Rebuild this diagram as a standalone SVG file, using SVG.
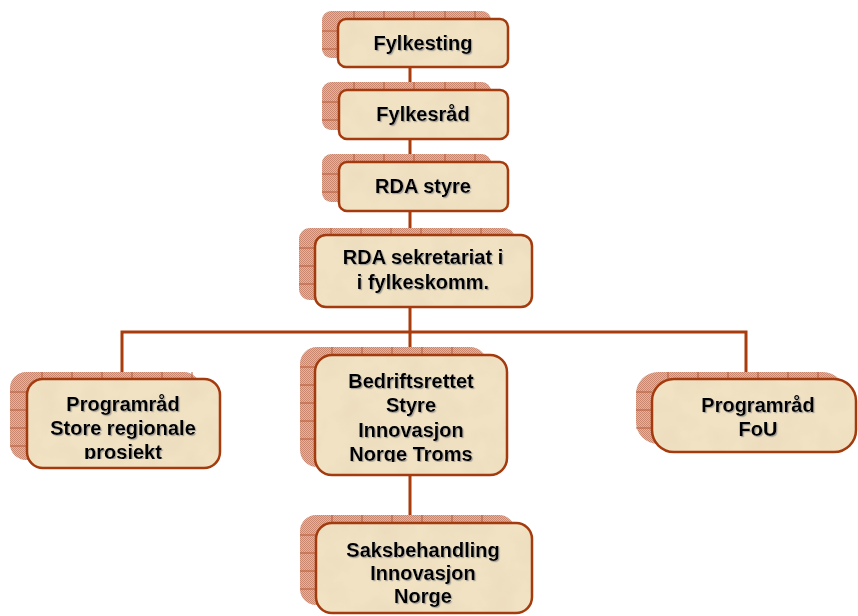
<svg xmlns="http://www.w3.org/2000/svg" width="858" height="616" viewBox="0 0 858 616">
<defs>
  <pattern id="stip" width="2" height="2" patternUnits="userSpaceOnUse">
    <rect width="2" height="2" fill="#e0b4a2"/>
    <rect width="1" height="1" fill="#c98770"/>
    <rect x="1" y="1" width="1" height="1" fill="#c98770"/>
  </pattern>
  <filter id="parch" x="-5%" y="-5%" width="110%" height="110%">
    <feTurbulence type="fractalNoise" baseFrequency="0.035" numOctaves="3" seed="4" result="n"/>
    <feColorMatrix in="n" type="matrix" values="0 0 0 0 0.82  0 0 0 0 0.70  0 0 0 0 0.50  0 0 0 1.2 -0.45" result="c"/>
    <feComposite in="c" in2="SourceGraphic" operator="in" result="m"/>
    <feMerge><feMergeNode in="SourceGraphic"/><feMergeNode in="m"/></feMerge>
    <feComposite in2="SourceGraphic" operator="in"/>
  </filter>
  <filter id="tsh" x="-10%" y="-10%" width="120%" height="130%">
    <feDropShadow dx="1.2" dy="1.2" stdDeviation="0.6" flood-color="#8a8a8a" flood-opacity="0.7"/>
  </filter>
  <clipPath id="c1"><rect x="27" y="379" width="193" height="80"/></clipPath>
  <clipPath id="c2"><rect x="315" y="355" width="192" height="107"/></clipPath>
</defs>
<style>
  .back { fill: url(#stip); }
  .brick { stroke: #b85a34; stroke-width: 1; fill: none; }
  .front { fill: #f1e2c3; stroke: none; filter: url(#parch); }
  .edge { fill: none; stroke: #a33b0e; stroke-width: 2.5; }
  .conn { stroke: #a83c0c; stroke-width: 3; fill: none; }
  text { font-family: "Liberation Sans", Arial, sans-serif; font-weight: bold; font-size: 20px; fill: #000; text-anchor: middle; }
  .t { filter: url(#tsh); }
</style>

<g id="connectors">
  <path class="conn" d="M410 67 V90 M410 139 V162 M410 211 V235 M410 307 V355 M410 475 V523"/>
  <path class="conn" d="M122 379 V332 H746 V379"/>
</g>

<g id="fylkesting">
  <rect class="back" x="322" y="11" width="169" height="47" rx="9"/>
  <path class="brick" d="M354 11V19M384 11V19M414 11V19M445 11V19M475 11V19M322 31H338M322 49H338"/>
  <rect class="front" x="338" y="19" width="170" height="48" rx="8"/>
  <rect class="edge" x="338" y="19" width="170" height="48" rx="8"/>
  <g class="t"><text x="423" y="50">Fylkesting</text></g>
</g>

<g id="fylkesrad">
  <rect class="back" x="322" y="82" width="169" height="48" rx="9"/>
  <path class="brick" d="M354 82V90M384 82V90M414 82V90M445 82V90M475 82V90M322 102H339M322 120H339"/>
  <rect class="front" x="339" y="90" width="169" height="49" rx="8"/>
  <rect class="edge" x="339" y="90" width="169" height="49" rx="8"/>
  <g class="t"><text x="423" y="121">Fylkesråd</text></g>
</g>

<g id="rda-styre">
  <rect class="back" x="322" y="154" width="169" height="48" rx="9"/>
  <path class="brick" d="M354 154V162M384 154V162M414 154V162M445 154V162M475 154V162M322 174H339M322 192H339"/>
  <rect class="front" x="339" y="162" width="169" height="49" rx="8"/>
  <rect class="edge" x="339" y="162" width="169" height="49" rx="8"/>
  <g class="t"><text x="423" y="193">RDA styre</text></g>
</g>

<g id="rda-sekretariat">
  <rect class="back" x="299" y="228" width="216" height="72" rx="11"/>
  <path class="brick" d="M331 228V235M361 228V235M391 228V235M421 228V235M451 228V235M481 228V235M299 248H315M299 266H315M299 284H315"/>
  <rect class="front" x="315" y="235" width="217" height="72" rx="11"/>
  <rect class="edge" x="315" y="235" width="217" height="72" rx="11"/>
  <g class="t"><text x="423" y="264">RDA sekretariat i</text><text x="423" y="289">i fylkeskomm.</text></g>
</g>

<g id="programrad-store">
  <rect class="back" x="10" y="372" width="190" height="88" rx="16"/>
  <path class="brick" d="M42 372V379M72 372V379M102 372V379M132 372V379M162 372V379M192 372V379M10 392H27M10 410H27M10 428H27M10 446H27"/>
  <rect class="front" x="27" y="379" width="193" height="89" rx="16"/>
  <rect class="edge" x="27" y="379" width="193" height="89" rx="16"/>
  <g class="t" clip-path="url(#c1)"><text x="123" y="411">Programråd</text><text x="123" y="435">Store regionale</text><text x="123" y="459">prosjekt</text></g>
</g>

<g id="bedriftsrettet">
  <rect class="back" x="300" y="347" width="187" height="120" rx="17"/>
  <path class="brick" d="M332 347V355M362 347V355M392 347V355M422 347V355M452 347V355M300 367H315M300 385H315M300 403H315M300 421H315M300 439H315"/>
  <rect class="front" x="315" y="355" width="192" height="120" rx="17"/>
  <rect class="edge" x="315" y="355" width="192" height="120" rx="17"/>
  <g class="t" clip-path="url(#c2)"><text x="411" y="388">Bedriftsrettet</text><text x="411" y="412">Styre</text><text x="411" y="437">Innovasjon</text><text x="411" y="461">Norge Troms</text></g>
</g>

<g id="programrad-fou">
  <rect class="back" x="636" y="372" width="209" height="72" rx="22"/>
  <path class="brick" d="M668 372V379M698 372V379M728 372V379M758 372V379M788 372V379M818 372V379M636 392H652M636 410H652M636 428H652"/>
  <rect class="front" x="652" y="379" width="204" height="73" rx="22"/>
  <rect class="edge" x="652" y="379" width="204" height="73" rx="22"/>
  <g class="t"><text x="758" y="412">Programråd</text><text x="758" y="436">FoU</text></g>
</g>

<g id="saksbehandling">
  <rect class="back" x="300" y="515" width="215" height="90" rx="16"/>
  <path class="brick" d="M332 515V523M362 515V523M392 515V523M422 515V523M452 515V523M482 515V523M300 535H316M300 553H316M300 571H316M300 589H316"/>
  <rect class="front" x="316" y="523" width="216" height="90" rx="16"/>
  <rect class="edge" x="316" y="523" width="216" height="90" rx="16"/>
  <g class="t"><text x="423" y="557">Saksbehandling</text><text x="423" y="580">Innovasjon</text><text x="423" y="603">Norge</text></g>
</g>
</svg>
